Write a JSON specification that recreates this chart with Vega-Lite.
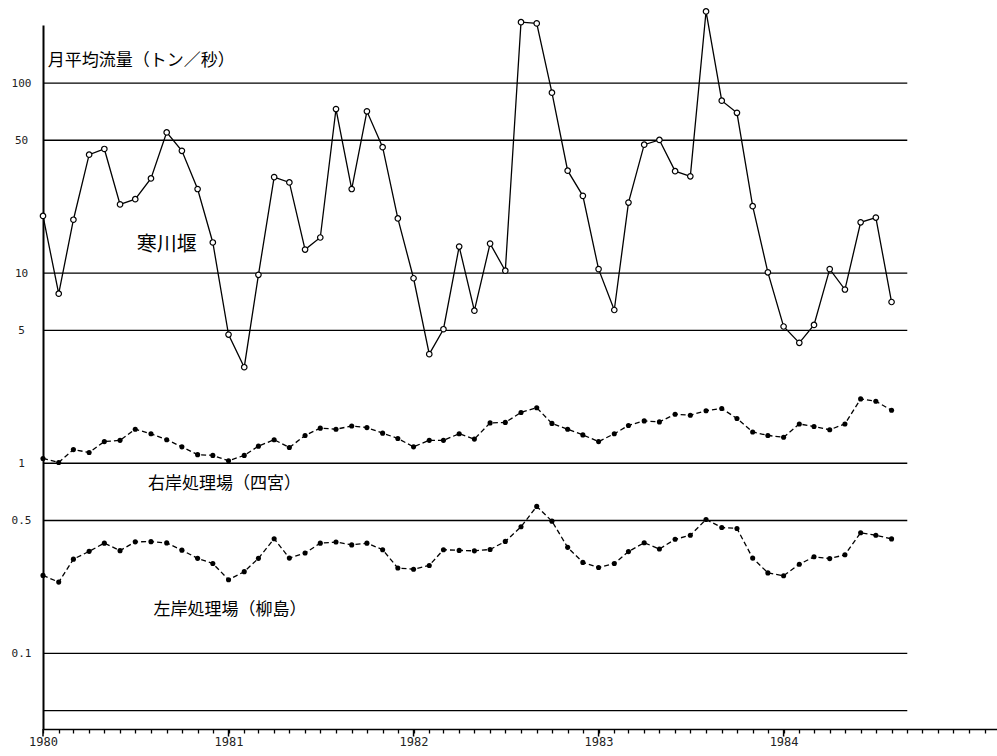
{
  "$schema": "https://vega.github.io/schema/vega-lite/v6.json",
  "width": 954,
  "height": 704,
  "autosize": {"type": "none"},
  "padding": {"left": 43, "top": 25, "right": 0, "bottom": 27},
  "background": "white",
  "config": {"view": {"stroke": null}},
  "datasets": {
    "flow": [
      {"d": "1980-01-01", "samukawa": 20, "ugan": 1.06, "sagan": 0.257},
      {"d": "1980-02-01", "samukawa": 7.8, "ugan": 1.01, "sagan": 0.237},
      {"d": "1980-03-01", "samukawa": 19.1, "ugan": 1.18, "sagan": 0.313},
      {"d": "1980-04-01", "samukawa": 42, "ugan": 1.14, "sagan": 0.344},
      {"d": "1980-05-01", "samukawa": 45, "ugan": 1.30, "sagan": 0.380},
      {"d": "1980-06-01", "samukawa": 23, "ugan": 1.32, "sagan": 0.347},
      {"d": "1980-07-01", "samukawa": 24.5, "ugan": 1.51, "sagan": 0.386},
      {"d": "1980-08-01", "samukawa": 31.5, "ugan": 1.43, "sagan": 0.387},
      {"d": "1980-09-01", "samukawa": 55, "ugan": 1.33, "sagan": 0.381},
      {"d": "1980-10-01", "samukawa": 44, "ugan": 1.22, "sagan": 0.349},
      {"d": "1980-11-01", "samukawa": 27.7, "ugan": 1.11, "sagan": 0.316},
      {"d": "1980-12-01", "samukawa": 14.5, "ugan": 1.10, "sagan": 0.297},
      {"d": "1981-01-01", "samukawa": 4.75, "ugan": 1.03, "sagan": 0.244},
      {"d": "1981-02-01", "samukawa": 3.2, "ugan": 1.10, "sagan": 0.269},
      {"d": "1981-03-01", "samukawa": 9.8, "ugan": 1.23, "sagan": 0.316},
      {"d": "1981-04-01", "samukawa": 32, "ugan": 1.33, "sagan": 0.401},
      {"d": "1981-05-01", "samukawa": 30, "ugan": 1.21, "sagan": 0.317},
      {"d": "1981-06-01", "samukawa": 13.3, "ugan": 1.40, "sagan": 0.337},
      {"d": "1981-07-01", "samukawa": 15.4, "ugan": 1.53, "sagan": 0.380},
      {"d": "1981-08-01", "samukawa": 73, "ugan": 1.51, "sagan": 0.385},
      {"d": "1981-09-01", "samukawa": 27.7, "ugan": 1.57, "sagan": 0.372},
      {"d": "1981-10-01", "samukawa": 71, "ugan": 1.54, "sagan": 0.380},
      {"d": "1981-11-01", "samukawa": 46, "ugan": 1.44, "sagan": 0.351},
      {"d": "1981-12-01", "samukawa": 19.4, "ugan": 1.35, "sagan": 0.281},
      {"d": "1982-01-01", "samukawa": 9.4, "ugan": 1.22, "sagan": 0.277},
      {"d": "1982-02-01", "samukawa": 3.75, "ugan": 1.32, "sagan": 0.290},
      {"d": "1982-03-01", "samukawa": 5.07, "ugan": 1.32, "sagan": 0.351},
      {"d": "1982-04-01", "samukawa": 13.8, "ugan": 1.43, "sagan": 0.348},
      {"d": "1982-05-01", "samukawa": 6.35, "ugan": 1.34, "sagan": 0.346},
      {"d": "1982-06-01", "samukawa": 14.3, "ugan": 1.63, "sagan": 0.352},
      {"d": "1982-07-01", "samukawa": 10.3, "ugan": 1.64, "sagan": 0.388},
      {"d": "1982-08-01", "samukawa": 209, "ugan": 1.85, "sagan": 0.463},
      {"d": "1982-09-01", "samukawa": 206, "ugan": 1.96, "sagan": 0.593},
      {"d": "1982-10-01", "samukawa": 89, "ugan": 1.62, "sagan": 0.496},
      {"d": "1982-11-01", "samukawa": 34.6, "ugan": 1.51, "sagan": 0.361},
      {"d": "1982-12-01", "samukawa": 25.5, "ugan": 1.41, "sagan": 0.301},
      {"d": "1983-01-01", "samukawa": 10.5, "ugan": 1.30, "sagan": 0.283},
      {"d": "1983-02-01", "samukawa": 6.4, "ugan": 1.43, "sagan": 0.297},
      {"d": "1983-03-01", "samukawa": 23.5, "ugan": 1.58, "sagan": 0.343},
      {"d": "1983-04-01", "samukawa": 47.4, "ugan": 1.67, "sagan": 0.382},
      {"d": "1983-05-01", "samukawa": 50.2, "ugan": 1.65, "sagan": 0.354},
      {"d": "1983-06-01", "samukawa": 34.4, "ugan": 1.81, "sagan": 0.398},
      {"d": "1983-07-01", "samukawa": 32.3, "ugan": 1.79, "sagan": 0.418},
      {"d": "1983-08-01", "samukawa": 238, "ugan": 1.89, "sagan": 0.506},
      {"d": "1983-09-01", "samukawa": 80.8, "ugan": 1.94, "sagan": 0.459},
      {"d": "1983-10-01", "samukawa": 69.7, "ugan": 1.72, "sagan": 0.454},
      {"d": "1983-11-01", "samukawa": 22.5, "ugan": 1.46, "sagan": 0.317},
      {"d": "1983-12-01", "samukawa": 10.1, "ugan": 1.40, "sagan": 0.265},
      {"d": "1984-01-01", "samukawa": 5.24, "ugan": 1.37, "sagan": 0.256},
      {"d": "1984-02-01", "samukawa": 4.3, "ugan": 1.61, "sagan": 0.294},
      {"d": "1984-03-01", "samukawa": 5.34, "ugan": 1.56, "sagan": 0.322},
      {"d": "1984-04-01", "samukawa": 10.5, "ugan": 1.50, "sagan": 0.315},
      {"d": "1984-05-01", "samukawa": 8.2, "ugan": 1.61, "sagan": 0.330},
      {"d": "1984-06-01", "samukawa": 18.5, "ugan": 2.18, "sagan": 0.431},
      {"d": "1984-07-01", "samukawa": 19.6, "ugan": 2.12, "sagan": 0.418},
      {"d": "1984-08-01", "samukawa": 7.05, "ugan": 1.90, "sagan": 0.400}
    ],
    "grid": [
      {"v": 100}, {"v": 50}, {"v": 10}, {"v": 5},
      {"v": 1}, {"v": 0.5}, {"v": 0.1}, {"v": 0.05}
    ],
    "years": [
      {"d": "1980-01-01"}, {"d": "1981-01-01"}, {"d": "1982-01-01"}, {"d": "1983-01-01"}, {"d": "1984-01-01"}
    ],
    "labels": [
      {"t": "月平均流量（トン／秒）", "d": "1980-07-13", "v": 130},
      {"t": "右岸処理場（四宮）", "d": "1980-12-24", "v": 0.782},
      {"t": "左岸処理場（柳島）", "d": "1981-01-04", "v": 0.1696}
    ],
    "weir": [
      {"t": "寒川堰", "d": "1980-09-01", "v": 14.1}
    ]
  },
  "layer": [
    {
      "data": {"name": "grid"},
      "mark": {"type": "rule", "stroke": "black", "strokeWidth": 1.3},
      "encoding": {
        "x": {"datum": {"year": 1980, "month": 1, "date": 1, "utc": true}, "type": "temporal",
              "scale": {"type": "utc", "nice": false, "domain": [{"year": 1980, "month": 1, "date": 1, "utc": true}, {"year": 1985, "month": 2, "date": 25, "utc": true}]},
              "axis": {"title": null, "tickCount": {"interval": "month", "step": 1}, "grid": false,
                       "tickSize": 4, "tickColor": "black", "tickWidth": 1.3, "domainColor": "black", "domainWidth": 1.5,
                       "labelExpr": "utcmonth(datum.value) === 0 && utcyear(datum.value) < 1985 ? utcFormat(datum.value, '%Y') : ''",
                       "labelFlush": false, "labelOverlap": false, "labelBound": false, "labelPadding": 3,
                       "labelFont": "DejaVu Sans Mono", "labelFontSize": 12, "labelColor": "#222"}},
        "x2": {"datum": {"year": 1984, "month": 9, "date": 1, "utc": true}},
        "y": {"field": "v", "type": "quantitative",
              "scale": {"type": "log", "nice": false, "domain": [0.04, 202]},
              "axis": {"title": null, "values": [0.1, 0.5, 1, 5, 10, 50, 100], "ticks": false, "tickSize": 0,
                       "labelExpr": "format(datum.value, '~g')", "labelAlign": "center", "labelBaseline": "middle",
                       "labelPadding": 22, "labelFont": "DejaVu Sans Mono", "labelFontSize": 11, "labelColor": "#222",
                       "grid": false, "domainColor": "black", "domainWidth": 2, "labelOverlap": false, "labelBound": false}}
      }
    },
    {
      "data": {"name": "years"},
      "mark": {"type": "rule", "stroke": "black", "strokeWidth": 1.5},
      "encoding": {
        "x": {"field": "d", "type": "temporal"},
        "y": {"datum": 0.04, "type": "quantitative"},
        "y2": {"datum": 0.0365}
      }
    },
    {
      "data": {"name": "flow"},
      "encoding": {
        "x": {"field": "d", "type": "temporal"},
        "y": {"field": "samukawa", "type": "quantitative"}
      },
      "layer": [
        {"mark": {"type": "line", "stroke": "black", "strokeWidth": 1.3}},
        {"mark": {"type": "point", "shape": "circle", "filled": true, "fill": "white", "stroke": "black", "strokeWidth": 1.2, "size": 30, "opacity": 1}}
      ]
    },
    {
      "data": {"name": "flow"},
      "encoding": {
        "x": {"field": "d", "type": "temporal"},
        "y": {"field": "ugan", "type": "quantitative"}
      },
      "layer": [
        {"mark": {"type": "line", "stroke": "black", "strokeWidth": 1.3, "strokeDash": [5, 3]}},
        {"mark": {"type": "point", "shape": "circle", "filled": true, "fill": "black", "size": 26, "opacity": 1}}
      ]
    },
    {
      "data": {"name": "flow"},
      "encoding": {
        "x": {"field": "d", "type": "temporal"},
        "y": {"field": "sagan", "type": "quantitative"}
      },
      "layer": [
        {"mark": {"type": "line", "stroke": "black", "strokeWidth": 1.3, "strokeDash": [5, 3]}},
        {"mark": {"type": "point", "shape": "circle", "filled": true, "fill": "black", "size": 26, "opacity": 1}}
      ]
    },
    {
      "data": {"name": "labels"},
      "mark": {"type": "text", "font": "Noto Sans CJK JP", "fontSize": 17, "align": "center", "baseline": "middle", "color": "black"},
      "encoding": {
        "x": {"field": "d", "type": "temporal"},
        "y": {"field": "v", "type": "quantitative"},
        "text": {"field": "t"}
      }
    },
    {
      "data": {"name": "weir"},
      "mark": {"type": "text", "font": "Noto Sans CJK JP", "fontSize": 20, "align": "center", "baseline": "middle", "color": "black"},
      "encoding": {
        "x": {"field": "d", "type": "temporal"},
        "y": {"field": "v", "type": "quantitative"},
        "text": {"field": "t"}
      }
    }
  ]
}
